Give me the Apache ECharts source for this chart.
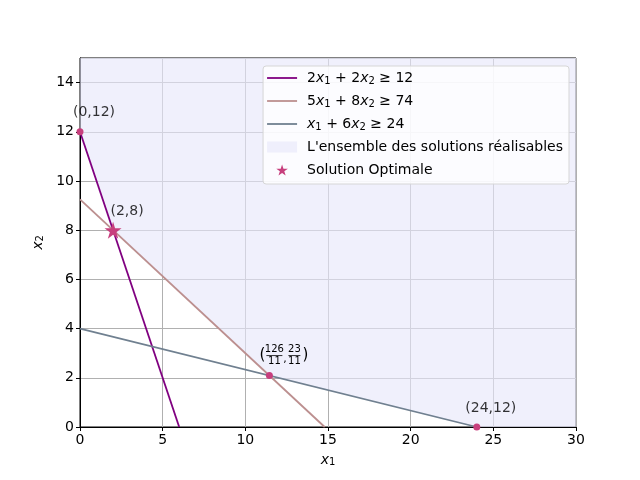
<!DOCTYPE html>
<html><head><meta charset="utf-8">
<script src="https://cdn.jsdelivr.net/npm/echarts@6/dist/echarts.min.js"></script>
<style>html,body{margin:0;padding:0;background:#fff}#c{width:640px;height:480px}</style>
</head><body><div id="c"></div>
<script>
// ---- data ----
const xTicks = [0, 5, 10, 15, 20, 25, 30];
const yTicks = [0, 2, 4, 6, 8, 10, 12, 14];
const line1X = [0, 6],    line1Y = [12, 0];     // 2x1 + 2x2 >= 12
const line2X = [0, 14.8], line2Y = [9.25, 0];   // 5x1 + 8x2 >= 74
const line3X = [0, 24],   line3Y = [4, 0];      // x1 + 6x2 >= 24
const regionX = [0, 0, 2, 126/11, 24, 30, 30];
const regionY = [15, 12, 8, 23/11, 0, 0, 15];
const pointX = [0, 126/11, 24];
const pointY = [12, 23/11, 0];
const optX = [2], optY = [8];
const labelX = [0, 2, 24];
const labelY = [12, 8, 0];
const labelText = ['(0,12)', '(2,8)', '(24,12)'];
const fracX = 126/11, fracY = 23/11;
const fracNum = ['126', '23'];
const fracDen = ['11', '11'];

// ---- styles ----
const FONT = 'DejaVu Sans';
const C1 = '#800080', C2 = '#bc8f8f', C3 = '#708090', CP = '#c73f7d';
const FILL = 'rgba(230,230,250,0.62)';
const STAR = 'path://M50,0 L61.2,34.5 L97.6,34.5 L68.2,55.9 L79.4,90.5 L50,69.1 L20.6,90.5 L31.8,55.9 L2.4,34.5 L38.8,34.5 Z';
const LINEICON = 'path://M0,0 L30,0 L30,1.8 L0,1.8 Z';
const rich = {
  n: {fontSize: 14, fontFamily: FONT, color: '#000'},
  i: {fontSize: 14, fontFamily: FONT, fontStyle: 'italic', color: '#000'},
  s: {fontSize: 10, fontFamily: FONT, color: '#000', verticalAlign: 'bottom'}
};
const legendText = {
  c1: '{n|2}{i|x}{s|1}{n| + 2}{i|x}{s|2}{n| ≥ 12}',
  c2: '{n|5}{i|x}{s|1}{n| + 8}{i|x}{s|2}{n| ≥ 74}',
  c3: '{i|x}{s|1}{n| + 6}{i|x}{s|2}{n| ≥ 24}',
  region: "{n|L'ensemble des solutions réalisables}",
  opt: '{n|Solution Optimale}'
};
const zip = (a, b) => a.map((v, k) => [v, b[k]]);

const chart = echarts.init(document.getElementById('c'), null, {renderer: 'canvas'});
chart.setOption({
  animation: false,
  backgroundColor: '#fff',
  textStyle: {fontFamily: FONT},
  grid: {left: 80, right: 64, top: 58, bottom: 53, show: true, borderColor: '#000', borderWidth: 1, backgroundColor: 'transparent'},
  xAxis: {
    type: 'value', min: xTicks[0], max: xTicks[xTicks.length-1], interval: 5,
    name: '{i|x}{s|1}', nameLocation: 'middle', nameGap: 26,
    nameTextStyle: {rich: rich},
    axisLine: {show: true, onZero: false, lineStyle: {color: '#000', width: 1}},
    axisTick: {show: true, length: 4, lineStyle: {color: '#000'}},
    axisLabel: {color: '#000', fontSize: 14, fontFamily: FONT, margin: 6},
    splitLine: {show: true, lineStyle: {color: '#b0b0b0', width: 1}}
  },
  yAxis: {
    type: 'value', min: yTicks[0], max: 15, interval: 2,
    name: '{i|x}{s|2}', nameLocation: 'middle', nameGap: 34, nameRotate: 90,
    nameTextStyle: {rich: rich},
    axisLine: {show: true, onZero: false, lineStyle: {color: '#000', width: 1}},
    axisTick: {show: true, length: 4, lineStyle: {color: '#000'}},
    axisLabel: {color: '#000', fontSize: 14, fontFamily: FONT, margin: 6, showMaxLabel: false,
      formatter: v => (yTicks.indexOf(v) >= 0 ? String(v) : '')},
    splitLine: {show: true, lineStyle: {color: '#b0b0b0', width: 1}}
  },
  legend: {
    orient: 'vertical', top: 66, right: 71,
    itemWidth: 30, itemHeight: 11, itemGap: 7,
    padding: [4, 6, 6, 4],
    backgroundColor: 'rgba(255,255,255,0.8)', borderColor: '#d6d6d6', borderWidth: 1, borderRadius: 3,
    data: [
      {name: 'c1', icon: LINEICON}, {name: 'c2', icon: LINEICON}, {name: 'c3', icon: LINEICON},
      {name: 'region', icon: 'rect'},
      {name: 'opt', icon: STAR}
    ],
    formatter: name => legendText[name],
    textStyle: {padding: [0, 0, 0, 5], rich: rich, lineHeight: 16}
  },
  series: [
    {
      name: 'region', type: 'custom', z: 1, silent: true,
      itemStyle: {color: FILL},
      data: [[regionX[0], regionY[0]]],
      renderItem: (params, api) => ({
        type: 'polygon',
        shape: {points: regionX.map((x, k) => api.coord([x, regionY[k]]))},
        style: {fill: FILL, stroke: null}
      }),
      clip: true
    },
    {name: 'c1', type: 'line', symbol: 'none', z: 3, data: zip(line1X, line1Y), lineStyle: {color: C1, width: 1.8}, itemStyle: {color: C1}},
    {name: 'c2', type: 'line', symbol: 'none', z: 3, data: zip(line2X, line2Y), lineStyle: {color: C2, width: 1.8}, itemStyle: {color: C2}},
    {name: 'c3', type: 'line', symbol: 'none', z: 3, data: zip(line3X, line3Y), lineStyle: {color: C3, width: 1.8}, itemStyle: {color: C3}},
    {name: 'pts', type: 'scatter', z: 4, symbol: 'circle', symbolSize: 7, itemStyle: {color: CP, opacity: 1}, data: zip(pointX, pointY), clip: false},
    {name: 'opt', type: 'scatter', z: 5, symbol: STAR, symbolSize: 17, itemStyle: {color: CP, opacity: 1}, data: zip(optX, optY)},
    {
      name: 'labels', type: 'scatter', z: 6, symbolSize: 0, silent: true, clip: false,
      data: labelX.map((x, k) => ({value: [x, labelY[k]], label: {formatter: labelText[k]}})),
      label: {show: true, position: 'inside', offset: [14, -19], color: '#000', fontSize: 14, fontFamily: FONT, textBorderWidth: 0}
    },
    {
      name: 'frac', type: 'custom', z: 6, silent: true, clip: false,
      data: [[fracX, fracY]],
      renderItem: (params, api) => {
        const p = api.coord([api.value(0), api.value(1)]);
        const cx = p[0] + 15, cy = p[1] - 20;
        const t = (x, y, s, fs) => ({type: 'text', x: x, y: y, style: {text: s, fontSize: fs, fontFamily: FONT, fill: '#000', align: 'center', verticalAlign: 'middle'}});
        const ln = (x1, x2) => ({type: 'line', shape: {x1: x1, y1: cy, x2: x2, y2: cy}, style: {stroke: '#000', lineWidth: 0.8}});
        return {type: 'group', children: [
          t(cx - 22, cy, '(', 15),
          t(cx - 10, cy - 6, fracNum[0], 10), ln(cx - 18, cx - 2), t(cx - 10, cy + 6, fracDen[0], 10),
          t(cx + 0.5, cy + 4, ',', 11),
          t(cx + 10, cy - 6, fracNum[1], 10), ln(cx + 4, cx + 16), t(cx + 10, cy + 6, fracDen[1], 10),
          t(cx + 21, cy, ')', 15)
        ]};
      }
    }
  ]
});
</script>
</body></html>
